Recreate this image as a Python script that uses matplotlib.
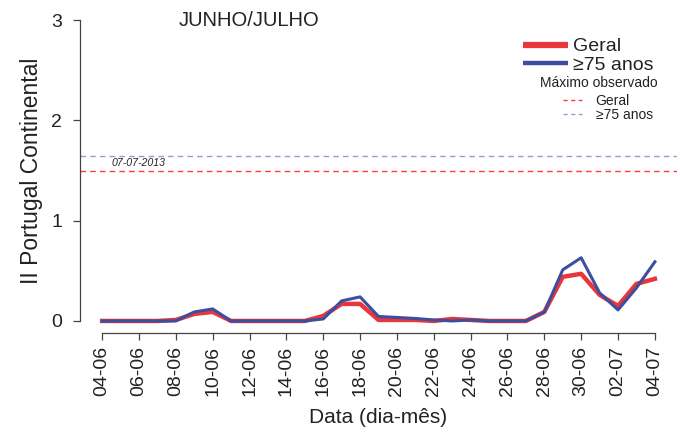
import matplotlib
matplotlib.use("Agg")
import matplotlib.pyplot as plt
from matplotlib.lines import Line2D

# Daily index values, 04-06 to 04-07
dias = list(range(31))
geral = [0, 0, 0, 0, 0.01, 0.07, 0.09, 0, 0, 0, 0, 0, 0.05, 0.17, 0.17, 0.01,
         0.01, 0.01, 0, 0.02, 0.01, 0, 0, 0, 0.09, 0.44, 0.47, 0.26, 0.15, 0.37, 0.42]
idosos = [0, 0, 0, 0, 0, 0.09, 0.12, 0, 0, 0, 0, 0, 0.02, 0.20, 0.24, 0.045,
          0.035, 0.025, 0.01, 0, 0.01, 0, 0, 0, 0.09, 0.51, 0.63, 0.28, 0.11, 0.33, 0.59]

# Observed maxima
max_geral = 1.5
max_idosos = 1.64
max_data = "07-07-2013"

tick_pos = list(range(0, 31, 2))
tick_labels = ["04-06", "06-06", "08-06", "10-06", "12-06", "14-06", "16-06", "18-06",
               "20-06", "22-06", "24-06", "26-06", "28-06", "30-06", "02-07", "04-07"]

RED = "#E8373C"
BLUE = "#3D4E9E"
RED_D = "#FF3B3B"
BLUE_D = "#9A9AD0"
TXT = "#222222"

plt.rcParams["font.family"] = ["Liberation Sans", "DejaVu Sans"]

fig = plt.figure(figsize=(6.8, 4.33), dpi=100)
ax = fig.add_axes([80 / 680, 100 / 433, 597 / 680, 325 / 433])

ax.axhline(max_idosos, color=BLUE_D, lw=1.0, ls=(0, (4, 3)))
ax.axhline(max_geral, color=RED_D, lw=1.0, ls=(0, (4, 3)))
ax.text(0.5, (max_geral + max_idosos) / 2, max_data, fontsize=7.6, style="italic",
        color=TXT, va="center", ha="left")

ax.plot(dias, geral, color=RED, lw=3.2, solid_joinstyle="round")
ax.plot(dias, idosos, color=BLUE, lw=2.2, solid_joinstyle="round")

ax.set_xlim(-1.2, 31.2)
ax.set_ylim(-0.12, 3.12)

for s in ("top", "right"):
    ax.spines[s].set_visible(False)
ax.spines["left"].set_bounds(0, 3)
ax.spines["bottom"].set_bounds(0, 30)
for s in ("left", "bottom"):
    ax.spines[s].set_color("#444444")
    ax.spines[s].set_linewidth(0.9)

ax.set_yticks([0, 1, 2, 3])
ax.set_yticklabels(["0", "1", "2", "3"])
ax.set_xticks(tick_pos)
ax.set_xticklabels(tick_labels, rotation=90)
ax.tick_params(axis="both", direction="out", color="#444444", width=0.9,
               labelcolor=TXT, labelsize=14)
ax.tick_params(axis="y", length=5, pad=8)
ax.tick_params(axis="x", length=5, pad=4)

ax.set_xlabel("Data (dia-mês)", fontsize=15, color=TXT, labelpad=9)
ax.set_ylabel("II Portugal Continental", fontsize=16.5, color=TXT, labelpad=6)

fig.text(249 / 680, 1 - 20 / 433, "JUNHO/JULHO", fontsize=14.5, color=TXT,
         ha="center", va="center")

# Legend: series
h1 = [Line2D([], [], color=RED, lw=4.5, solid_capstyle="butt"),
      Line2D([], [], color=BLUE, lw=3.2, solid_capstyle="butt")]
leg1 = fig.legend(h1, ["Geral", "≥75 anos"], loc="upper left",
                  bbox_to_anchor=(513 / 680, 1 - 28 / 433), frameon=False,
                  handlelength=2.35, handletextpad=0.25,
                  labelspacing=0.05, borderpad=0, prop={"size": 14})
for t in leg1.get_texts():
    t.set_color(TXT)

fig.text(599 / 680, 1 - 83 / 433, "Máximo observado", fontsize=10, color=TXT,
         ha="center", va="center")

h2 = [Line2D([], [], color=RED_D, lw=1.0, ls=(0, (3, 2.5))),
      Line2D([], [], color=BLUE_D, lw=1.0, ls=(0, (3, 2.5)))]
leg2 = fig.legend(h2, ["Geral", "≥75 anos"], loc="upper left",
                  bbox_to_anchor=(556 / 680, 1 - 87 / 433), frameon=False,
                  handlelength=1.35, handletextpad=1.0, labelspacing=0.0,
                  borderpad=0, prop={"size": 10})
for t in leg2.get_texts():
    t.set_color(TXT)

fig.savefig("out.png", dpi=100)
